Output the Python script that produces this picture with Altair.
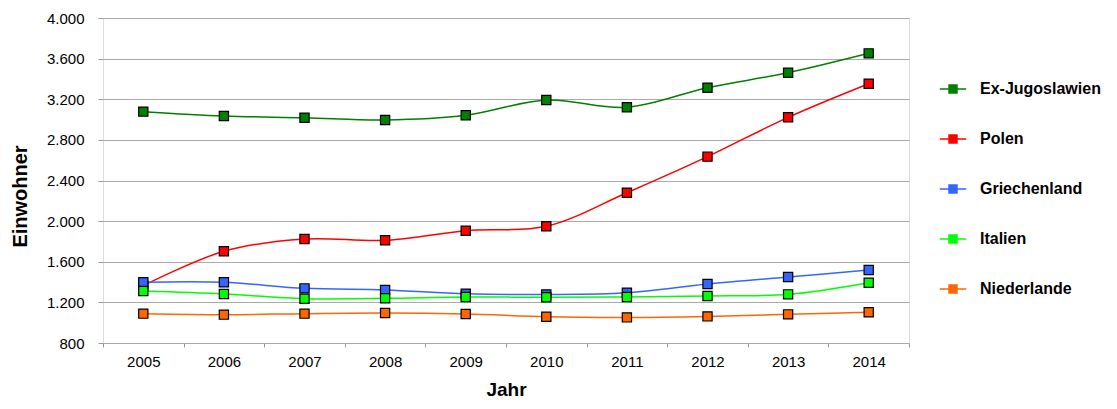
import altair as alt
import pandas as pd

years = ["2005", "2006", "2007", "2008", "2009", "2010", "2011", "2012", "2013", "2014"]
series = ["Ex-Jugoslawien", "Polen", "Griechenland", "Italien", "Niederlande"]
colors = ["#008000", "#FF0000", "#3366FF", "#00FF00", "#FF6600"]

ex_jugoslawien = [3078, 3035, 3018, 2996, 3042, 3193, 3121, 3314, 3461, 3652]
polen = [1365, 1703, 1824, 1811, 1906, 1949, 2280, 2635, 3022, 3353]
griechenland = [1398, 1398, 1338, 1322, 1285, 1278, 1295, 1381, 1450, 1519]
italien = [1312, 1283, 1236, 1240, 1253, 1250, 1253, 1263, 1279, 1394]
niederlande = [1089, 1079, 1089, 1095, 1085, 1059, 1052, 1062, 1082, 1102]

values = [ex_jugoslawien, polen, griechenland, italien, niederlande]
rows = []
for s, vals in zip(series, values):
    for y, v in zip(years, vals):
        rows.append({"Jahr": y, "Land": s, "Einwohner": v})
df = pd.DataFrame(rows)

font = "Liberation Sans"

x = alt.X("Jahr:O", title="Jahr",
          scale=alt.Scale(type="band", paddingInner=0, paddingOuter=0),
          axis=alt.Axis(tickBand="extent", labelAngle=0, labelFontSize=15,
                        labelFont=font, labelColor="#000", tickColor="#999",
                        tickSize=4, labelPadding=7, domain=False,
                        titleFont=font, titleFontSize=19, titleFontWeight="bold",
                        titlePadding=11, titleColor="#000"))
y = alt.Y("Einwohner:Q", title="Einwohner",
          scale=alt.Scale(domain=[800, 4000], nice=False, zero=False),
          axis=alt.Axis(values=list(range(800, 4001, 400)), format=",d",
                        labelFontSize=15, labelFont=font, labelColor="#000",
                        tickColor="#999", tickSize=5, labelPadding=14,
                        gridColor="#AAAAAA", gridWidth=1, domain=False,
                        titleFont=font, titleFontSize=20, titleFontWeight="bold",
                        titleX=-83, titleY=178, titleBaseline="middle",
                        titleColor="#000"))
color = alt.Color("Land:N", sort=series,
                  scale=alt.Scale(domain=series, range=colors),
                  legend=alt.Legend(title=None, orient="none", legendX=836, legendY=57,
                                    labelFont=font, labelFontSize=16, labelFontWeight="bold",
                                    labelColor="#000", rowPadding=28,
                                    symbolType="M-1,0L-0.3,0M0.3,0L1,0M-0.3,-0.3L0.3,-0.3L0.3,0.3L-0.3,0.3Z",
                                    symbolSize=700, symbolStrokeWidth=1.5, labelOffset=13))

lines = alt.Chart(df).mark_line(interpolate="catmull-rom", strokeWidth=1.5).encode(
    x=x, y=y, color=color, detail="Land:N")
points = alt.Chart(df).mark_point(shape="square", filled=True, size=85, stroke="#000",
                                  strokeWidth=1.2, opacity=1).encode(
    x=x, y=y, fill=alt.Fill("Land:N", sort=series, scale=alt.Scale(domain=series, range=colors), legend=None))

chart = alt.layer(lines, points).properties(
    width=806, height=325,
    autosize=alt.AutoSizeParams(type="none"),
    padding={"left": 95, "top": 10, "right": 200, "bottom": 58},
).configure_view(stroke="#000", strokeWidth=1.5).configure(
    locale={"number": {"decimal": ",", "thousands": ".", "grouping": [3], "currency": ["", " €"]}}
)

chart.save("out.html", embed_options={"renderer": "svg", "actions": False})
